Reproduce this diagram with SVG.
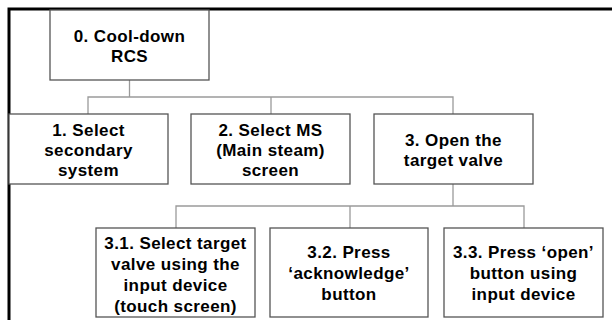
<svg xmlns="http://www.w3.org/2000/svg" width="612" height="320" viewBox="0 0 612 320">
<style>
.box{fill:#fff;stroke:#555;stroke-width:1.3}
.c{fill:none;stroke:#9a9a9a;stroke-width:1.3}
text{font-family:"Liberation Sans",Arial,sans-serif;font-weight:bold;font-size:17px;letter-spacing:0.4px;fill:#000;text-anchor:middle}
</style>
<rect width="612" height="320" fill="#fff"/>
<path d="M9,320 V9 H612" fill="none" stroke="#000" stroke-width="3"/>
<g id="connectors">
<path class="c" d="M129.5,80 V97 M88,114 V97 H453 V114 M271,97 V114"/>
<path class="c" d="M453,184 V206 M176,228 V206 H524 V228 M350,206 V228"/>
</g>
<g id="n0"><rect class="box" x="50" y="10" width="159" height="70"/><text x="129.5" y="42">0. Cool-down</text><text x="129.5" y="62">RCS</text></g>
<g id="n1"><rect class="box" x="9" y="114" width="159" height="70"/><text x="88.5" y="136">1. Select</text><text x="88.5" y="156">secondary</text><text x="88.5" y="176">system</text></g>
<g id="n2"><rect class="box" x="191" y="114" width="159" height="70"/><text x="270.5" y="136">2. Select MS</text><text x="270.5" y="156">(Main steam)</text><text x="270.5" y="176">screen</text></g>
<g id="n3"><rect class="box" x="374" y="114" width="159" height="70"/><text x="453.5" y="146">3. Open the</text><text x="453.5" y="166">target valve</text></g>
<g id="n31"><rect class="box" x="96" y="228" width="159" height="89"/><text x="175.5" y="249">3.1. Select target</text><text x="175.5" y="270">valve using the</text><text x="175.5" y="291">input device</text><text x="175.5" y="312">(touch screen)</text></g>
<g id="n32"><rect class="box" x="270" y="228" width="158" height="89"/><text x="349" y="258">3.2. Press</text><text x="349" y="279">‘acknowledge’</text><text x="349" y="300">button</text></g>
<g id="n33"><rect class="box" x="444" y="228" width="159" height="89"/><text x="523.5" y="258">3.3. Press ‘open’</text><text x="523.5" y="279">button using</text><text x="523.5" y="300">input device</text></g>
</svg>
